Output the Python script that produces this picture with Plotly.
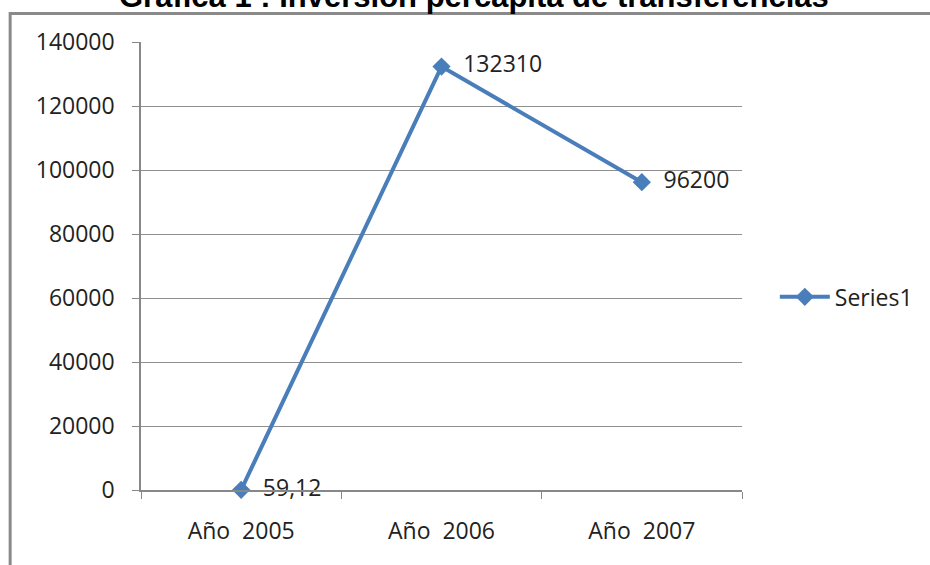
import plotly.graph_objects as go

categories = ["Año  2005", "Año  2006", "Año  2007"]
values = [59.12, 132310, 96200]
value_labels = ["59,12", "132310", "96200"]
series_name = "Series1"
y_ticks = [0, 20000, 40000, 60000, 80000, 100000, 120000, 140000]
y_tick_labels = [str(v) for v in y_ticks]
title_text = "Gráfica 1 : Inversión percápita de transferencias"

color = "#4A7EBB"
font_family = "Open Sans, Noto Sans, sans-serif"

fig = go.Figure()
fig.add_trace(go.Scatter(
    x=categories, y=values, name=series_name,
    mode="lines+markers+text",
    line=dict(color=color, width=4),
    marker=dict(symbol="diamond", size=14, color=color),
    text=["\u00a0\u00a0" + t for t in value_labels], textposition="middle right",
    textfont=dict(size=23, color="#222222", family=font_family),
    cliponaxis=False,
))

fig.update_layout(
    width=930, height=565,
    margin=dict(l=141, r=185, t=42, b=75),
    paper_bgcolor="white", plot_bgcolor="white",
    font=dict(family=font_family, size=23, color="#222222"),
    showlegend=True,
    legend=dict(x=1.0546, y=0.431, xanchor="left", yanchor="middle",
                font=dict(size=23, color="#222222"), bgcolor="rgba(0,0,0,0)",
                itemwidth=50),
    xaxis=dict(
        type="category", range=[-0.5, 2.5],
        showline=True, linecolor="#888888", linewidth=1.5,
        ticks="outside", tickson="boundaries", ticklen=7, tickcolor="#888888",
        showgrid=False, tickfont=dict(size=23), ticklabelstandoff=20,
    ),
    yaxis=dict(
        range=[0, 140000], tickvals=y_ticks, ticktext=y_tick_labels,
        showline=True, linecolor="#888888", linewidth=1.5,
        ticks="outside", ticklen=7, tickcolor="#888888",
        showgrid=True, gridcolor="#909090", gridwidth=1,
        zeroline=False, tickfont=dict(size=23), ticklabelstandoff=13,
    ),
    shapes=[dict(
        type="rect", xref="paper", yref="paper",
        x0=(9.5 - 141) / 604, x1=1.35, y0=-0.3, y1=(490 - 13.5) / 448,
        line=dict(color="#8a8a8a", width=3), fillcolor="rgba(0,0,0,0)",
        layer="below",
    )],
    annotations=[dict(
        text="<b>" + title_text + "</b>", xref="paper", yref="paper",
        x=(476 - 141) / 604, y=(490 + 4) / 448, xanchor="center", yanchor="middle",
        showarrow=False, font=dict(family="Liberation Sans, Arial, sans-serif", size=31, color="#000000"),
    )],
)

fig.write_html("out.html", post_script="document.body.style.margin='0';",
               config={"displayModeBar": False})
